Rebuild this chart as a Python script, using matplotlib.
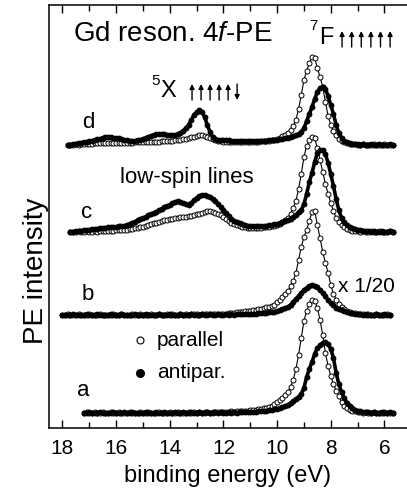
import numpy as np
import matplotlib
matplotlib.use("Agg")
import matplotlib.pyplot as plt

plt.rcParams['font.family'] = ['Liberation Sans', 'DejaVu Sans']
plt.rcParams['mathtext.fontset'] = 'custom'
plt.rcParams['mathtext.rm'] = 'Liberation Sans'
plt.rcParams['mathtext.it'] = 'Liberation Sans:italic'

# ---- spectra: intensity above each baseline (arb. units), 0.1 eV sampling ----
# a: 17.2 -> 5.7 eV
a_par = [0,1,0,0,1,0,0,1,0,0, 1,0,0,1,0,0,0,1,0,0, 0,1,0,0,1,0,0,0,1,0, 0,0,1,0,0,1,0,0,0,1,
         0,1,0,1,0,1,1,0,1,1, 1,1,1,1,1,2,1,2,2,2, 2,2,3,3,3,4,4,5,5,6,
         7,9,11,13,15,18,21,26,33,44, 58,75,92,102,109,113,112,105,93,78,
         60,47,37,29,22,17,11,7,5,3, 2,2,1,1,0,1,0,0,1,0, 0,0,1,0,0,0]
a_anti = [0,0,1,0,0,0,1,0,0,0, 0,1,0,0,0,1,0,0,1,0, 0,0,0,1,0,0,0,1,0,0, 1,0,0,0,1,0,0,1,0,0,
          1,0,0,1,0,0,1,0,0,1, 0,1,0,0,1,0,1,0,1,1, 1,1,1,1,1,2,2,2,2,3,
          3,4,4,5,6,7,8,10,12,14, 16,19,25,36,44,51,59,65,68,70,
          71,69,64,55,40,29,21,15,10,7, 5,3,2,2,1,1,1,0,1,0, 0,1,0,0,1,0]
# b: 18.0 -> 5.8 eV
b_par = [0,0,1,0,0,0,1,0,0,0, 1,0,0,0,1,0,0,0,0,1, 0,0,1,0,0,0,1,0,0,1, 0,0,0,1,0,0,1,0,0,1,
         0,1,0,0,1,0,1,0,1,1, 1,0,1,1,1,1,1,1,1,1, 1,1,2,2,2,3,3,3,4,4,
         4,5,5,6,6,7,8,8,9,10, 13,15,18,21,24,29,34,42,55,68,
         78,85,94,103,104,90,77,63,52,42, 30,21,15,11,8,6,4,3,2,2,
         1,1,1,0,1,0,0,1,0,0, 0,1,0]
b_anti = [0,0,0,0,1,0,0,0,0,1, 0,0,0,1,0,0,0,0,1,0, 0,0,1,0,0,0,0,1,0,0, 0,1,0,0,0,0,1,0,0,0,
          1,0,0,0,1,0,0,0,1,0, 0,0,1,0,0,1,0,0,1,0, 0,1,0,1,0,1,1,1,1,1,
          1,1,1,2,2,2,2,3,3,3, 4,5,6,7,8,10,13,16,19,22,
          25,27,29,30,29,28,25,22,19,15, 12,10,7,6,5,4,3,2,2,1,
          1,1,0,1,0,0,0,1,0,0, 1,0,0]
# c: 17.7 -> 5.7 eV
c_par = [0,0,0,1,0,0,1,0,0,1, 0,1,1,1,1,1,1,2,2,2, 2,2,3,3,4,4,5,5,6,7,
         8,9,9,10,11,12,12,13,13,14, 14,15,15,15,16,16,17,18,18,19,
         20,21,21,20,19,18,17,15,13,11, 9,8,7,6,5,5,4,4,4,4,
         4,4,5,5,5,6,6,7,8,10, 12,14,18,24,31,43,58,75,86,92,
         95,94,84,72,60,48,38,29,21,14, 10,7,5,3,2,1,1,1,0,1,
         0,0,1,0,0,1,0,0,0,1, 0]
c_anti = [0,0,1,1,1,2,2,2,3,3, 3,4,4,4,5,5,5,5,6,6, 6,7,8,9,10,12,13,14,15,17,
          18,19,20,22,23,25,26,27,29,30, 31,30,29,28,27,29,32,34,36,37,
          37,36,35,33,31,28,25,22,19,16, 13,11,10,9,8,7,6,6,6,6,
          6,6,6,6,7,7,8,8,9,10, 11,12,13,15,17,20,22,28,38,50,
          59,70,79,82,82,78,69,58,46,33, 22,14,10,7,5,4,3,2,2,1,
          1,1,0,1,0,0,1,0,0,1, 0]
# d: 17.8 -> 5.7 eV
d_par = [0,0,0,1,0,1,1,1,1,1, 2,2,2,2,2,2,2,2,2,2, 2,2,2,2,2,3,3,3,3,3,
         3,3,3,3,3,4,4,4,4,4, 5,5,5,6,6,7,8,8,9,10, 10,9,8,7,6,5,4,4,3,3,
         3,3,3,3,3,3,3,3,3,3, 3,3,4,4,4,4,5,5,6,7,
         9,10,12,15,19,25,36,50,65,74, 82,88,87,77,68,58,43,29,20,14,
         10,6,4,3,2,1,1,1,0,0, 1,0,0,0,1,0,0,0,1,0, 0,0]
d_anti = [0,0,1,1,2,2,3,3,4,4, 5,6,6,7,8,8,8,7,7,7, 6,5,5,4,4,4,5,5,6,7,
          8,9,10,11,11,11,11,10,10,10, 10,11,12,14,17,20,25,30,33,35,
          33,28,20,13,8,6,5,5,5,5, 5,4,4,4,4,4,4,4,4,4,
          4,4,4,4,4,5,5,5,5,6, 6,7,7,8,9,10,11,13,17,24,
          31,38,46,53,57,58,56,49,40,31, 20,12,7,4,3,2,1,1,1,0,
          1,0,0,1,0,0,1,0,0,0, 1,0]

labels = ["a", "b", "c", "d"]
starts = [17.2, 18.0, 17.7, 17.8]
offsets = [15, 113, 196, 283]
par = [a_par, b_par, c_par, d_par]
anti = [a_anti, b_anti, c_anti, d_anti]

# spin arrows: up (+1) / down (-1)
spin_7F = [1, 1, 1, 1, 1, 1]
spin_5X = [1, 1, 1, 1, 1, -1]

fig = plt.figure(figsize=(4.07, 5.01), dpi=100)
ax = fig.add_axes([49/407, 1-428/501, 1-49/407, 423/501])

for lab, e0, off, yp, ya in zip(labels, starts, offsets, par, anti):
    E = np.round(e0 - 0.1*np.arange(len(yp)), 2)
    ax.plot(E, off + np.array(yp), '-o', color='k', lw=0.8, ms=3.6,
            mfc='white', mec='k', mew=0.7, zorder=2)
    ax.plot(E, off + np.array(ya), '-o', color='k', lw=2.6, ms=4.2, mew=0, zorder=3)

lab_pos = {"a": (17.23, 38), "b": (17.05, 133), "c": (17.08, 215), "d": (17.05, 306)}
for k, (x, y) in lab_pos.items():
    ax.text(x, y, k, fontsize=16, ha='center', va='center')

ax.text(17.62, 394, "Gd reson. 4$\\mathit{f}$-PE", fontsize=20, ha='left', va='center')
ax.text(8.64, 402, "7", fontsize=11, ha='center', va='center')
ax.text(8.15, 390, "F", fontsize=17, ha='center', va='center')
ax.text(14.52, 347, "5", fontsize=11, ha='center', va='center')
ax.text(14.06, 337, "X", fontsize=17, ha='center', va='center')


def spin_arrows(x0, dx, ylo, yhi, spins):
    for i, s in enumerate(spins):
        x = x0 - i*dx
        a, b = (ylo, yhi) if s > 0 else (yhi, ylo)
        ax.annotate("", xy=(x, b), xytext=(x, a),
                    arrowprops=dict(arrowstyle='-|>', lw=1.0, color='k',
                                    mutation_scale=7, shrinkA=0, shrinkB=0))


spin_arrows(7.58, 0.358, 381, 397, spin_7F)
spin_arrows(13.17, 0.336, 328, 344, spin_5X)

ax.text(13.36, 250, "low-spin lines", fontsize=16, ha='center', va='center')
ax.text(6.68, 141, "x 1/20", fontsize=15, ha='center', va='center')
ax.plot([15.1], [88], 'o', ms=5, mfc='white', mec='k', mew=0.8)
ax.plot([15.1], [55], 'o', ms=5.5, color='k')
ax.text(14.47, 88, "parallel", fontsize=15, ha='left', va='center')
ax.text(14.47, 55, "antipar.", fontsize=15, ha='left', va='center')

ax.set_xlim(18.5, 5.16)
ax.set_ylim(0, 423)
ax.set_xticks([18, 16, 14, 12, 10, 8, 6])
ax.set_xticks(np.arange(6, 19, 1), minor=True)
ax.set_yticks([])
ax.tick_params(axis='x', which='both', direction='in', top=True, labelsize=15, pad=8)
ax.tick_params(axis='x', which='major', length=6, width=1)
ax.tick_params(axis='x', which='minor', length=4, width=1)
ax.spines['right'].set_visible(False)
for s in ['left', 'top', 'bottom']:
    ax.spines[s].set_linewidth(1.1)
ax.set_xlabel("binding energy (eV)", fontsize=17, labelpad=5)
fig.text(36/407, 1-271/501, "PE intensity", rotation=90, fontsize=20, ha='center', va='center')

fig.savefig("out.png", dpi=100)
